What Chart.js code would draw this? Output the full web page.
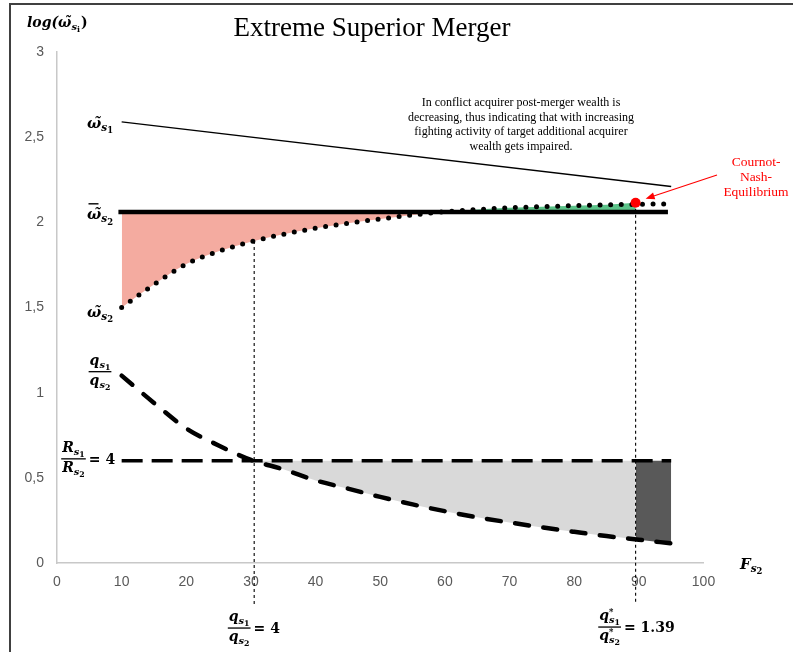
<!DOCTYPE html>
<html>
<head>
<meta charset="utf-8">
<script src="https://cdn.jsdelivr.net/npm/chart.js@4.4.0/dist/chart.umd.min.js"></script>
<style>
  html, body { margin: 0; padding: 0; background: #fff; }
  canvas { display: block; }
</style>
</head>
<body>
<canvas id="merger" width="793" height="652"></canvas>
<script>
// axis ticks
const xTicks = [0, 10, 20, 30, 40, 50, 60, 70, 80, 90, 100];
const yTicks = [0, 0.5, 1, 1.5, 2, 2.5, 3];

// acquirer post-merger wealth (thin straight line)
const acqX = [10, 95];
const acqWealth = [2.59, 2.21];

// target reference wealth level (thick black line)
const barX = [9.5, 94.5];
const barWealth = [2.06, 2.06];

// target wealth in conflict (dotted curve)
const tgtX = [10, 15, 20, 25, 30, 35, 40, 45, 50, 55, 60, 65, 70, 75, 80, 85, 90, 94];
const tgtWealth = [1.50, 1.635, 1.755, 1.83, 1.886, 1.93, 1.965, 1.995, 2.02, 2.043, 2.062, 2.075, 2.085, 2.092, 2.098, 2.103, 2.106, 2.108];

// output ratio q_s1 / q_s2 (dashed curve)
const ratioX = [10, 15, 20, 25, 30, 35, 40, 45, 50, 55, 60, 65, 70, 75, 80, 85, 90, 95];
const qRatio = [1.10, 0.94, 0.79, 0.69, 0.605, 0.55, 0.485, 0.437, 0.388, 0.344, 0.304, 0.268, 0.238, 0.209, 0.183, 0.158, 0.137, 0.115];

// resource ratio R_s1 / R_s2 = 4 (long dashes)
const resX = [10, 95];
const resRatio = [0.6, 0.6];

// q ratio = 4 crossing, Cournot-Nash equilibrium, bottom of the guide lines
const cross = { x: 30.5, wealth: 1.89, ratio: 0.6 };
const eq = { x: 89.5, wealth: 2.115, ratio: 0.14 };
const guideBottom = -0.24;

const pts = (xs, ys) => xs.map((x, i) => ({ x: x, y: ys[i] }));

const tgtPts = pts(tgtX, tgtWealth);
const ratioPts = pts(ratioX, qRatio);
const gapFill = tgtPts.filter(p => p.x < eq.x).concat([{ x: eq.x, y: eq.wealth }]);
const lightFill = [{ x: cross.x, y: cross.ratio }]
  .concat(ratioPts.filter(p => p.x > cross.x && p.x < eq.x))
  .concat([{ x: eq.x, y: eq.ratio }]);
const darkFill = [{ x: eq.x, y: eq.ratio }].concat(ratioPts.filter(p => p.x > eq.x));

const MATH = '"DejaVu Serif"';

// base letter with subscript and sub-subscript, returns width
function msub(ctx, x, y, base, sub, subsub, size, sup) {
  const f1 = 'italic bold ' + size + 'px ' + MATH;
  const f2 = 'italic bold ' + (size * 0.7) + 'px ' + MATH;
  const f3 = 'bold ' + (size * 0.56) + 'px ' + MATH;
  ctx.font = f1; const w1 = ctx.measureText(base).width;
  ctx.font = f2; const w2 = ctx.measureText(sub).width;
  ctx.font = f3; const w3 = ctx.measureText(subsub).width;
  if (x !== null) {
    ctx.font = f1; ctx.fillText(base, x, y);
    ctx.font = f2; ctx.fillText(sub, x + w1, y + size * 0.22);
    ctx.font = f3; ctx.fillText(subsub, x + w1 + w2, y + size * 0.36);
    if (sup) {
      ctx.font = 'bold ' + (size * 0.6) + 'px ' + MATH;
      ctx.fillText(sup, x + w1, y - size * 0.35);
    }
  }
  return w1 + w2 + w3;
}

// stacked fraction centred on cx, returns right edge
function frac(ctx, cx, barY, num, den, size) {
  const wn = msub(ctx, null, 0, num[0], num[1], num[2], size);
  const wd = msub(ctx, null, 0, den[0], den[1], den[2], size);
  const w = Math.max(wn, wd) + 2;
  msub(ctx, cx - wn / 2, barY - 7, num[0], num[1], num[2], size, num[3]);
  msub(ctx, cx - wd / 2, barY + 13, den[0], den[1], den[2], size, den[3]);
  ctx.fillRect(cx - w / 2, barY - 0.6, w, 1.3);
  return cx + w / 2;
}

const decor = {
  id: 'decor',
  beforeDraw(chart) {
    const ctx = chart.ctx;
    ctx.save();
    ctx.strokeStyle = '#404040';
    ctx.lineWidth = 2;
    ctx.beginPath();
    ctx.moveTo(10, chart.height);
    ctx.lineTo(10, 4);
    ctx.lineTo(chart.width, 4);
    ctx.stroke();
    ctx.restore();
  },
  afterDraw(chart) {
    const ctx = chart.ctx;
    const xs = chart.scales.x, ys = chart.scales.y;
    ctx.save();
    ctx.fillStyle = '#000';
    ctx.textBaseline = 'alphabetic';

    // title
    ctx.textAlign = 'center';
    ctx.font = '27px "Liberation Serif"';
    ctx.fillText('Extreme Superior Merger', 372, 36);

    // comment text
    ctx.font = '12px "Liberation Serif"';
    const note = ['In conflict acquirer post-merger wealth is',
      'decreasing, thus indicating that with increasing',
      'fighting activity of target additional acquirer',
      'wealth gets impaired.'];
    note.forEach((t, i) => ctx.fillText(t, 521, 106 + i * 14.6));

    // Cournot-Nash label + arrow
    ctx.fillStyle = '#ff0000';
    ctx.font = '13.5px "Liberation Serif"';
    ['Cournot-', 'Nash-', 'Equilibrium'].forEach((t, i) => ctx.fillText(t, 756, 166 + i * 15));
    const tipX = xs.getPixelForValue(eq.x) + 10, tipY = ys.getPixelForValue(eq.wealth) - 4;
    const sx = 717, sy = 175;
    const ang = Math.atan2(tipY - sy, tipX - sx);
    ctx.strokeStyle = '#ff0000';
    ctx.lineWidth = 1.2;
    ctx.beginPath();
    ctx.moveTo(sx, sy);
    ctx.lineTo(tipX - 7 * Math.cos(ang), tipY - 7 * Math.sin(ang));
    ctx.stroke();
    ctx.beginPath();
    ctx.moveTo(tipX, tipY);
    ctx.lineTo(tipX - 9 * Math.cos(ang) + 3.5 * Math.sin(ang), tipY - 9 * Math.sin(ang) - 3.5 * Math.cos(ang));
    ctx.lineTo(tipX - 9 * Math.cos(ang) - 3.5 * Math.sin(ang), tipY - 9 * Math.sin(ang) + 3.5 * Math.cos(ang));
    ctx.closePath();
    ctx.fill();

    // math labels
    ctx.fillStyle = '#000';
    ctx.textAlign = 'left';
    const w = msub(ctx, 27, 27, 'log(\u03C9\u0303', 's', 'i', 14);
    ctx.font = 'bold 14px ' + MATH;
    ctx.fillText(')', 27 + w + 1, 27);

    msub(ctx, 87, ys.getPixelForValue(acqWealth[0]) + 6, '\u03C9\u0303', 's', '1', 15);
    const by = ys.getPixelForValue(barWealth[0]) + 7;
    msub(ctx, 87, by, '\u03C9\u0303', 's', '2', 15);
    ctx.fillRect(88.5, by - 16, 10, 1.4);
    msub(ctx, 87, ys.getPixelForValue(tgtWealth[0]) + 9, '\u03C9\u0303', 's', '2', 15);

    frac(ctx, 100, ys.getPixelForValue(qRatio[0]) - 4, ['q', 's', '1'], ['q', 's', '2'], 14);
    const ry = ys.getPixelForValue(resRatio[0]) - 2;
    let r = frac(ctx, 73.5, ry, ['R', 's', '1'], ['R', 's', '2'], 14);
    ctx.font = 'bold 14px ' + MATH;
    ctx.fillText('= 4', r + 3, ry + 5);

    r = frac(ctx, xs.getPixelForValue(cross.x) - 15, 628, ['q', 's', '1'], ['q', 's', '2'], 14);
    ctx.font = 'bold 14px ' + MATH;
    ctx.fillText('= 4', r + 3, 633);

    r = frac(ctx, xs.getPixelForValue(eq.x) - 26, 627, ['q', 's', '1', '*'], ['q', 's', '2', '*'], 14);
    ctx.font = 'bold 14px ' + MATH;
    ctx.fillText('= 1.39', r + 3, 632);

    msub(ctx, 740, 569, 'F', 's', '2', 15);
    ctx.restore();
  }
};

const axisColor = '#c8c8c8';
const tickFont = { family: '"Liberation Sans"', size: 14 };

new Chart(document.getElementById('merger'), {
  type: 'line',
  data: {
    datasets: [
      { data: gapFill, fill: { value: barWealth[0], above: '#5cc389', below: '#f4aba0' },
        borderColor: 'transparent', borderWidth: 0, cubicInterpolationMode: 'monotone', order: 9 },
      { data: lightFill, fill: { value: resRatio[0] }, backgroundColor: '#d9d9d9',
        borderColor: 'transparent', borderWidth: 0, cubicInterpolationMode: 'monotone', order: 9 },
      { data: darkFill, fill: { value: resRatio[0] }, backgroundColor: '#595959',
        borderColor: 'transparent', borderWidth: 0, order: 9 },
      { data: pts(acqX, acqWealth), borderColor: '#000', borderWidth: 1.4, fill: false, order: 3 },
      { data: pts(barX, barWealth), borderColor: '#000', borderWidth: 4.5, fill: false, order: 3 },
      { data: tgtPts, borderColor: '#000', borderWidth: 5, borderDash: [0, 10.6], borderCapStyle: 'round',
        cubicInterpolationMode: 'monotone', fill: false, order: 2 },
      { data: pts(resX, resRatio), borderColor: '#000', borderWidth: 3.5, borderDash: [21, 9], fill: false, order: 2 },
      { data: ratioPts, borderColor: '#000', borderWidth: 4.5, borderDash: [14, 14.5], borderCapStyle: 'round',
        cubicInterpolationMode: 'monotone', fill: false, order: 2 },
      { data: [{ x: cross.x, y: cross.wealth }, { x: cross.x, y: guideBottom }], borderColor: '#000',
        borderWidth: 1.1, borderDash: [3, 3], fill: false, clip: false, order: 1 },
      { data: [{ x: eq.x, y: eq.wealth }, { x: eq.x, y: guideBottom }], borderColor: '#000',
        borderWidth: 1.1, borderDash: [3, 3], fill: false, clip: false, order: 1 },
      { data: [{ x: eq.x, y: eq.wealth }], showLine: false, pointRadius: 5, pointBackgroundColor: '#ff0000',
        pointBorderColor: '#ff0000', pointBorderWidth: 0, order: 0 }
    ]
  },
  options: {
    responsive: false,
    animation: false,
    layout: { padding: { left: 0, right: 89.5, top: 52, bottom: 0 } },
    elements: { point: { radius: 0 }, line: { tension: 0 } },
    plugins: { legend: { display: false }, tooltip: { enabled: false }, title: { display: false } },
    scales: {
      x: {
        type: 'linear', min: 0, max: 100,
        afterBuildTicks: s => { s.ticks = xTicks.map(v => ({ value: v })); },
        afterFit: s => { s.height = 89; },
        grid: { display: false, drawTicks: false },
        border: { color: axisColor, width: 1.5 },
        ticks: { color: '#595959', font: tickFont, padding: 11, maxRotation: 0 }
      },
      y: {
        type: 'linear', min: 0, max: 3,
        afterBuildTicks: s => { s.ticks = yTicks.map(v => ({ value: v })); },
        afterFit: s => { s.width = 57; },
        grid: { display: false, drawTicks: false },
        border: { color: axisColor, width: 1.5 },
        ticks: { color: '#595959', font: tickFont, padding: 13,
          callback: v => String(v).replace('.', ',') }
      }
    }
  },
  plugins: [decor]
});
</script>
</body>
</html>
